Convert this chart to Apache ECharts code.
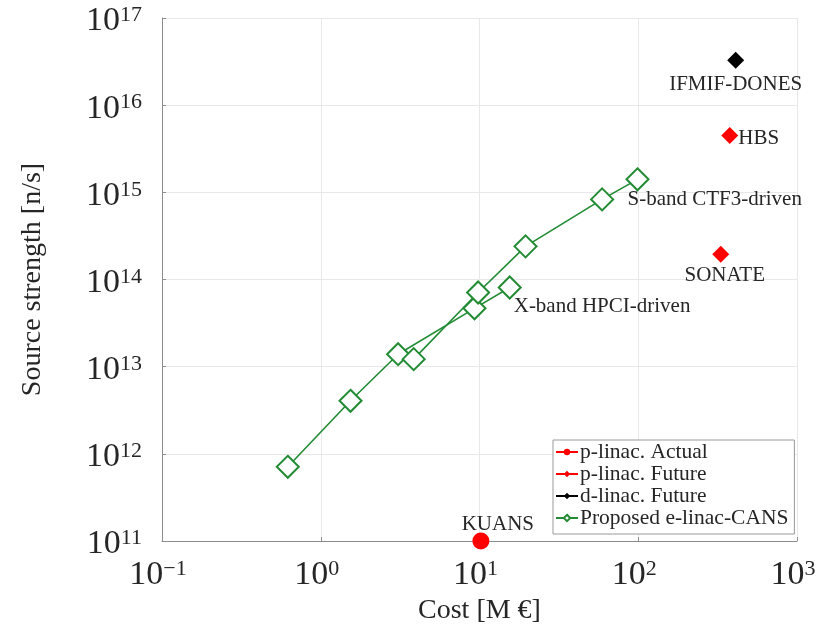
<!DOCTYPE html>
<html>
<head>
<meta charset="utf-8">
<script src="https://cdn.jsdelivr.net/npm/echarts@6/dist/echarts.min.js"></script>
<style>
  html, body { margin: 0; padding: 0; background: #fff; }
  #chart { width: 825px; height: 630px; }
</style>
</head>
<body>
<div id="chart"></div>
<script>
// Cost [M EUR] vs. neutron source strength [n/s]
const xBandCost     = [0.62, 1.54, 3.07, 9.3, 15.5];
const xBandStrength = [7.1e11, 4.06e12, 1.39e13, 4.67e13, 8.1e13];
const sBandCost     = [3.85, 9.8, 19.5, 59.2, 98.9];
const sBandStrength = [1.22e13, 7.1e13, 2.4e14, 8.3e14, 1.41e15];

const pActual = { name: 'KUANS', cost: 10.2, strength: 1e11 };
const pFuture = [
  { name: 'HBS', cost: 377, strength: 4.5e15 },
  { name: 'SONATE', cost: 331, strength: 1.95e14 }
];
const dFuture = { name: 'IFMIF-DONES', cost: 411, strength: 3.28e16 };

const legendNames = ['p-linac. Actual', 'p-linac. Future', 'd-linac. Future', 'Proposed e-linac-CANS'];
const xTicks = [0.1, 1, 10, 100, 1000];
const yTicks = [1e11, 1e12, 1e13, 1e14, 1e15, 1e16, 1e17];

const FONT = '"Liberation Serif", "DejaVu Serif", serif';
const TEXT = '#262626';
const GREEN = '#228b34';

function pairs(xs, ys) { return xs.map((x, i) => [x, ys[i]]); }
function powLabel(v) {
  const e = Math.round(Math.log10(v));
  const s = e < 0 ? '\u2212' + (-e) : String(e);
  return '{b|10}{s|' + s + '}';
}
function powRich(extraRight) {
  return {
    b: { fontFamily: FONT, fontSize: 34, color: TEXT, verticalAlign: 'bottom' },
    s: { fontFamily: FONT, fontSize: 22, color: TEXT, verticalAlign: 'top', padding: [0, extraRight, 0, 0] }
  };
}

const annotFont = { fontFamily: FONT, fontSize: 21, color: TEXT };

const xData = pairs(xBandCost, xBandStrength);
xData[xData.length - 1] = {
  value: xData[xData.length - 1],
  label: Object.assign({ show: true, formatter: 'X-band HPCI-driven', position: 'right', offset: [-13, 19] }, annotFont)
};
const sData = pairs(sBandCost, sBandStrength);
sData[sData.length - 1] = {
  value: sData[sData.length - 1],
  label: Object.assign({ show: true, formatter: 'S-band CTF3-driven', position: 'right', offset: [-27, 20] }, annotFont)
};

const labelBase = Object.assign({ show: true, formatter: '{b}' }, annotFont);

function greenSeries(data) {
  return {
    name: legendNames[3], type: 'line', data: data, clip: false,
    symbol: 'diamond', symbolSize: 22, showAllSymbol: true,
    itemStyle: { color: '#fff', borderColor: GREEN, borderWidth: 2 },
    lineStyle: { color: GREEN, width: 1.6 }, z: 3
  };
}
function pointSeries(name, symbol, size, color, pt, label) {
  return {
    name: name, type: 'line', clip: false,
    symbol: symbol, symbolSize: size,
    itemStyle: { color: color }, lineStyle: { color: color, width: 1 },
    data: [{ name: pt.name, value: [pt.cost, pt.strength], label: Object.assign({}, labelBase, label) }],
    z: 5
  };
}

const chart = echarts.init(document.getElementById('chart'), null, { renderer: 'canvas' });
chart.setOption({
  animation: false,
  backgroundColor: '#fff',
  grid: { left: 162, right: 28, top: 18, bottom: 89, outerBoundsMode: 'none', containLabel: false },
  xAxis: {
    type: 'log', logBase: 10, min: xTicks[0], max: xTicks[xTicks.length - 1],
    name: 'Cost [M \u20AC]', nameLocation: 'middle', nameGap: 52,
    nameTextStyle: { fontFamily: FONT, fontSize: 28, color: TEXT },
    axisLine: { show: true, lineStyle: { color: '#8c8c8c', width: 1 } },
    axisTick: { show: true, inside: true, length: 4, lineStyle: { color: '#8c8c8c' } },
    minorTick: { show: false },
    splitLine: { show: true, lineStyle: { color: '#e8e8e8', width: 1 } },
    axisLabel: { formatter: powLabel, rich: powRich(8), margin: 17 }
  },
  yAxis: {
    type: 'log', logBase: 10, min: yTicks[0], max: yTicks[yTicks.length - 1],
    name: 'Source strength [n/s]', nameLocation: 'middle', nameGap: 115,
    nameTextStyle: { fontFamily: FONT, fontSize: 28, color: TEXT },
    axisLine: { show: true, lineStyle: { color: '#8c8c8c', width: 1 } },
    axisTick: { show: true, inside: true, length: 4, lineStyle: { color: '#8c8c8c' } },
    splitLine: { show: true, lineStyle: { color: '#e8e8e8', width: 1 } },
    axisLabel: { formatter: powLabel, rich: powRich(0), margin: 20, padding: [7, 0, 0, 0] }
  },
  legend: {
    data: legendNames,
    orient: 'vertical', left: 553, top: 440,
    backgroundColor: '#fff', borderColor: '#9a9a9a', borderWidth: 1,
    padding: [1, 6, 5, 2], itemGap: 0, itemWidth: 22, itemHeight: 8,
    textStyle: { fontFamily: FONT, fontSize: 21.5, color: TEXT, padding: [0, 0, 0, -3] }
  },
  series: [
    greenSeries(xData),
    greenSeries(sData),
    pointSeries(legendNames[0], 'circle', 17, '#ff0000', pActual,
      { position: 'top', distance: 1, offset: [17, 3] }),
    pointSeries(legendNames[1], 'diamond', 17, '#ff0000', pFuture[0],
      { position: 'right', distance: 0, offset: [0, 3] }),
    pointSeries(legendNames[1], 'diamond', 17, '#ff0000', pFuture[1],
      { position: 'bottom', distance: 2, offset: [4, 0] }),
    pointSeries(legendNames[2], 'diamond', 17, '#000000', dFuture,
      { position: 'bottom', distance: 5 })
  ]
});
</script>
</body>
</html>
